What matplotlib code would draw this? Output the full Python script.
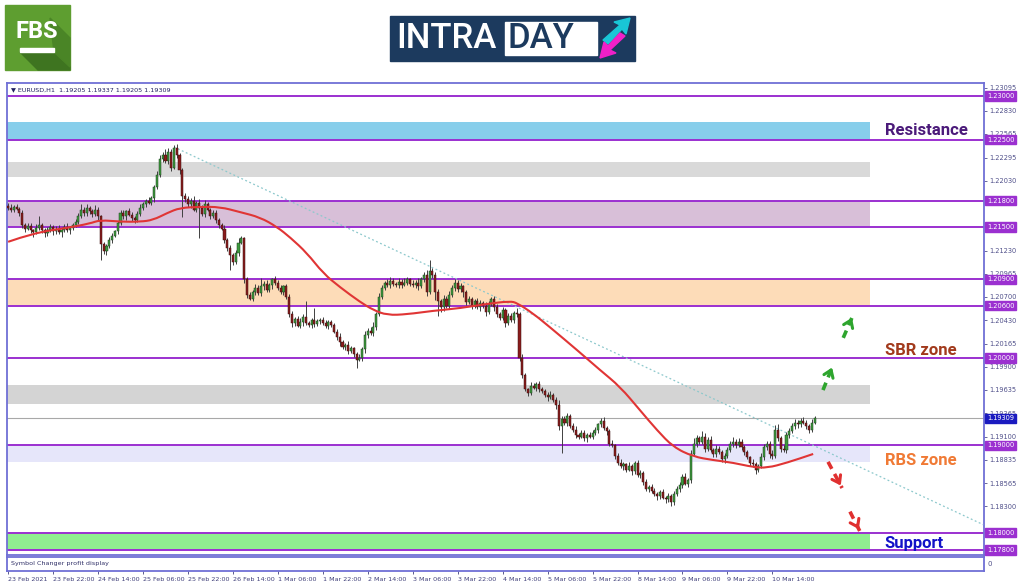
import matplotlib
matplotlib.use("Agg")
import matplotlib.pyplot as plt
from matplotlib.patches import Rectangle, Polygon, PathPatch
from matplotlib.path import Path
from matplotlib.transforms import blended_transform_factory
import numpy as np

# ---- data (prices in pips relative to BASE, one candle per hour) ----
BASE = 1.19000
PIP = 0.0001

closes = [
    272, 270, 273, 271, 266, 252, 248, 251, 246, 244, 249, 252, 247, 243, 246, 250,
    245, 248, 244, 247, 250, 246, 249, 252, 256, 262, 270, 266, 272, 268, 265, 270,
    262, 230, 222, 228, 235, 240, 245, 254, 266, 262, 268, 264, 260, 258, 265, 272,
    276, 280, 278, 283, 296, 310, 328, 333, 325, 336, 318, 340, 332, 315, 286, 282,
    276, 280, 270, 278, 272, 265, 276, 270, 262, 266, 258, 252, 248, 235, 226, 218,
    210, 220, 232, 237, 190, 172, 168, 176, 180, 174, 182, 185, 178, 183, 190, 186,
    180, 176, 182, 170, 150, 140, 145, 137, 141, 147, 140, 138, 143, 139, 142, 144,
    140, 137, 141, 138, 130, 124, 118, 112, 115, 108, 111, 104, 98, 100, 110, 126,
    131, 128, 136, 150, 170, 180, 186, 184, 188, 185, 183, 187, 184, 186, 190, 185,
    183, 186, 182, 190, 195, 175, 200, 195, 176, 165, 158, 168, 160, 172, 180, 186,
    179, 182, 175, 164, 167, 160, 165, 158, 163, 160, 153, 162, 168, 158, 150, 146,
    155, 140, 148, 144, 152, 150, 100, 80, 64, 60, 68, 66, 70, 64, 62, 58,
    55, 58, 52, 46, 22, 30, 26, 34, 22, 18, 12, 10, 14, 8, 12, 10,
    14, 18, 24, 28, 20, 16, 2, 0, -12, -20, -24, -22, -28, -24, -30, -20,
    -34, -32, -42, -50, -48, -52, -56, -58, -54, -60, -62, -58, -65, -56, -50, -46,
    -36, -44, -40, -10, 2, 8, 4, 10, -4, 6, -6, -10, -4, -8, -16, -12,
    -6, 2, 4, 0, 4, -2, -8, -14, -20, -22, -28, -24, -14, -2, 2, -10,
    -12, 18, 8, -4, -6, 12, 16, 22, 26, 24, 28, 26, 22, 18, 26, 31,
]
first_open = 274

upper_wick = [
    3, 4, 2, 3, 2, 3, 2, 4, 3, 2, 4, 11, 3, 2, 4, 3,
    2, 3, 4, 2, 3, 4, 2, 3, 3, 4, 6, 3, 4, 2, 3, 5,
    3, 2, 3, 2, 4, 3, 2, 3, 4, 3, 2, 4, 3, 2, 3, 4,
    3, 2, 4, 3, 2, 4, 5, 3, 6, 4, 3, 4, 5, 3, 2, 3,
    4, 3, 5, 2, 4, 3, 5, 3, 2, 4, 3, 2, 3, 4, 2, 3,
    2, 4, 5, 3, 2, 3, 4, 2, 5, 3, 10, 3, 4, 3, 2, 4,
    3, 4, 2, 3, 3, 4, 2, 3, 5, 3, 18, 2, 3, 14, 3, 2,
    3, 4, 2, 3, 2, 3, 4, 3, 2, 4, 3, 2, 3, 4, 3, 5,
    3, 4, 5, 3, 4, 3, 2, 4, 5, 3, 2, 4, 3, 5, 3, 2,
    4, 3, 5, 3, 4, 6, 12, 3, 4, 3, 2, 4, 3, 5, 3, 4,
    3, 4, 2, 3, 4, 3, 2, 4, 3, 2, 4, 3, 2, 3, 4, 3,
    3, 2, 4, 3, 2, 5, 3, 4, 3, 2, 5, 3, 2, 4, 3, 2,
    3, 4, 2, 3, 6, 3, 4, 3, 2, 3, 4, 2, 3, 4, 2, 3,
    4, 3, 2, 3, 4, 2, 3, 4, 2, 3, 4, 3, 2, 5, 3, 2,
    3, 4, 2, 3, 2, 4, 3, 2, 3, 4, 2, 3, 2, 4, 3, 4,
    3, 4, 3, 5, 6, 4, 3, 6, 4, 3, 5, 3, 4, 3, 2, 3,
    4, 3, 5, 3, 4, 3, 2, 3, 2, 4, 3, 2, 5, 4, 3, 3,
    4, 5, 6, 3, 4, 3, 4, 3, 4, 3, 3, 4, 3, 2, 4, 2,
]
lower_wick = [
    2, 3, 3, 2, 4, 3, 4, 2, 3, 5, 2, 3, 4, 5, 3, 2,
    4, 3, 2, 5, 3, 2, 4, 3, 2, 3, 2, 4, 3, 3, 4, 2,
    4, 18, 3, 4, 2, 3, 2, 3, 2, 3, 4, 2, 3, 4, 2, 3,
    2, 3, 2, 3, 4, 2, 3, 4, 2, 3, 4, 2, 3, 4, 25, 3,
    3, 4, 2, 3, 35, 3, 4, 2, 3, 2, 4, 3, 2, 3, 4, 17,
    3, 2, 3, 2, 4, 3, 2, 3, 4, 2, 3, 4, 2, 3, 4, 3,
    2, 3, 4, 2, 3, 4, 3, 2, 3, 4, 2, 3, 4, 3, 2, 3,
    2, 3, 4, 3, 2, 3, 4, 2, 3, 4, 2, 3, 10, 2, 3, 4,
    3, 2, 3, 4, 2, 3, 2, 3, 4, 3, 2, 3, 4, 2, 3, 3,
    2, 3, 4, 2, 3, 4, 2, 3, 10, 17, 5, 4, 3, 4, 2, 3,
    4, 3, 5, 3, 2, 4, 3, 2, 4, 3, 5, 3, 2, 4, 3, 2,
    3, 4, 2, 3, 4, 3, 4, 3, 2, 4, 3, 2, 4, 3, 2, 3,
    4, 2, 3, 4, 5, 31, 3, 4, 2, 3, 4, 3, 2, 3, 4, 2,
    3, 2, 4, 3, 2, 4, 3, 2, 4, 3, 2, 4, 3, 2, 4, 3,
    2, 4, 3, 2, 4, 3, 2, 5, 3, 2, 4, 3, 5, 3, 2, 4,
    3, 2, 4, 3, 2, 4, 3, 2, 4, 3, 2, 3, 4, 2, 3, 4,
    3, 2, 4, 3, 2, 4, 3, 2, 4, 3, 5, 3, 2, 3, 4, 5,
    4, 3, 3, 4, 2, 3, 4, 2, 3, 4, 3, 2, 3, 4, 3, 2,
]

# moving average read at sample bars
ma_bar = [0, 8.9, 21, 29.2, 32.7, 39.9, 47, 51.6, 56.6, 61.2, 68.3, 75.4, 82.6, 89.7,
          95.7, 100.4, 106.4, 112.1, 118.1, 125.3, 129.9, 134.9, 142, 151.2, 160.9,
          170.5, 178.6, 181.1, 186.8, 192.9, 202.5, 210.7, 217.8, 224.9, 231, 236.7,
          243.8, 250.9, 258, 265.1, 270.1, 277.2, 286.5]
ma_pips = [233, 243, 249, 254, 258, 256, 256, 258, 266, 272, 273, 273, 267, 261,
           250, 238, 220, 197, 181, 164, 155, 149, 150, 154, 157,
           162, 165, 163, 151, 135, 109, 86, 67, 40, 17, -2,
           -13, -17, -20, -25, -26, -20, -10]

# horizontal levels and zones
levels = [1.23000, 1.22500, 1.21800, 1.21500, 1.20900, 1.20600, 1.20000, 1.19000, 1.18000, 1.17800]
zone_low = [1.22500, 1.22072, 1.21500, 1.20600, 1.19472, 1.18808, 1.17812]
zone_high = [1.22700, 1.22244, 1.21800, 1.20900, 1.19690, 1.19000, 1.18000]
zone_colors = ["#87ceeb", "#d9d9d9", "#d8bfd8", "#fddcb8", "#d4d4d4", "#e6e6fa", "#90ee90"]

last_price = 1.19309
trend_bar = [59, 347]
trend_price = [1.22416, 1.18091]

# price scale labels that stay visible beside the level boxes
price_ticks = [1.23095, 1.22830, 1.22565, 1.22295, 1.22030, 1.21230, 1.20965,
               1.20700, 1.20430, 1.20165, 1.19900, 1.19635, 1.19365, 1.19100, 1.18835,
               1.18565, 1.18300]

time_pos = [0, 16, 32, 48, 64, 80, 96, 112, 128, 144, 160, 176, 192, 208, 224, 240, 256, 272]
time_labels = ["23 Feb 2021", "23 Feb 22:00", "24 Feb 14:00", "25 Feb 06:00", "25 Feb 22:00",
               "26 Feb 14:00", "1 Mar 06:00", "1 Mar 22:00", "2 Mar 14:00", "3 Mar 06:00",
               "3 Mar 22:00", "4 Mar 14:00", "5 Mar 06:00", "5 Mar 22:00", "8 Mar 14:00",
               "9 Mar 06:00", "9 Mar 22:00", "10 Mar 14:00"]

# scenario arrows (bar, price): start -> end
arrow_start_bar = [290.0, 297.2, 291.8, 299.6]
arrow_start_price = [1.19632, 1.20230, 1.18810, 1.18240]
arrow_end_bar = [293.6, 300.7, 296.8, 303.2]
arrow_end_price = [1.19920, 1.20490, 1.18510, 1.18010]
arrow_colors = ["#2ea52e", "#2ea52e", "#e03030", "#e03030"]

zone_names = ["Resistance", "SBR zone", "RBS zone", "Support"]
zone_name_price = [1.22600, 1.20080, 1.18830, 1.17880]
zone_name_colors = ["#4b1a7a", "#a23a1c", "#f07a35", "#1212c8"]

FRAME = "#6f6fd6"
LEVEL = "#9b30d0"

# ---- figure ----
fig = plt.figure(figsize=(10.24, 5.87), dpi=100)
bg = fig.add_axes([0, 0, 1, 1])
bg.set_xlim(0, 1024)
bg.set_ylim(587, 0)
bg.axis("off")

# FBS logo
bg.add_patch(Rectangle((5, 5), 65, 65, color="#5e9e30"))
bg.add_patch(Polygon([[20, 52], [54, 52], [70, 67], [70, 70], [38, 70]], color="#3e7420"))
bg.add_patch(Polygon([[50, 18], [70, 38], [70, 67], [54, 52]], color="#4a8526"))
bg.text(37, 32, "FBS", color="white", fontsize=17, fontweight="bold", ha="center", va="center",
        family="Roboto")
bg.add_patch(Rectangle((20, 48), 34, 4, color="white"))

# INTRADAY logo
bg.add_patch(Rectangle((390, 16), 245, 45, color="#1c3a5e"))
bg.text(396, 39, "INTRA", color="white", fontsize=25, fontweight="medium", va="center", ha="left",
        family="Roboto")
bg.add_patch(Rectangle((505, 22), 92, 33, facecolor="white", edgecolor="white"))
bg.text(508, 39, "DAY", color="#1c3a5e", fontsize=25, fontweight="medium", va="center", ha="left",
        family="Roboto")
bg.add_patch(Polygon([[603, 40], [620, 25], [614, 22], [630, 18], [626, 34], [622, 29], [608, 44]],
                     color="#19c6d6"))
bg.add_patch(Polygon([[625, 36], [610, 50], [616, 53], [600, 58], [604, 42], [608, 46], [620, 33]],
                     color="#f020c8"))

# ---- main chart ----
ax = fig.add_axes([7 / 1024, 1 - 555 / 587, 977 / 1024, 472 / 587])
ax.set_xlim(-0.4, 347.3)
ax.set_ylim(1.17743, 1.23149)

for lo, hi, c in zip(zone_low, zone_high, zone_colors):
    ax.add_patch(Rectangle((-0.4, lo), 307.2, hi - lo, color=c, zorder=1, lw=0))

for lv in levels:
    ax.axhline(lv, color=LEVEL, lw=1.4, zorder=2)
ax.axhline(last_price, color="#a8a8a8", lw=0.8, zorder=2)

ax.plot(trend_bar, trend_price, color="#8cc8cc", lw=0.9, ls=(0, (1.5, 2)), zorder=3)

# candles
c = np.array(closes, dtype=float)
o = np.concatenate([[first_open], c[:-1]])
top = np.maximum(o, c)
bot = np.minimum(o, c)
hi = top + np.array(upper_wick)
lo = bot - np.array(lower_wick)
idx = np.arange(len(c))
to_price = lambda p: BASE + p * PIP
ax.vlines(idx, to_price(lo), to_price(hi), color="#404040", lw=0.7, zorder=4)
bull = c >= o
height = np.maximum(top - bot, 0.6)
ax.bar(idx[bull], height[bull] * PIP, bottom=to_price(bot[bull]), width=0.74,
       color="#3d9a3d", edgecolor="#1d3d1d", lw=0.35, zorder=5)
ax.bar(idx[~bull], height[~bull] * PIP, bottom=to_price(bot[~bull]), width=0.74,
       color="#8a1c1c", edgecolor="#3a1010", lw=0.35, zorder=5)

# moving average drawn as a smooth curve through the read points
pts = np.column_stack([ma_bar, to_price(np.array(ma_pips))])
verts = [pts[0]]
codes = [Path.MOVETO]
for k in range(1, len(pts) - 1):
    verts += [pts[k], (pts[k] + pts[k + 1]) / 2]
    codes += [Path.CURVE3, Path.CURVE3]
verts.append(pts[-1])
codes.append(Path.LINETO)
ax.add_patch(PathPatch(Path(verts, codes), fill=False, edgecolor="#e03535", lw=1.5, zorder=6))

# scenario arrows
for sb, sp, eb, ep, col in zip(arrow_start_bar, arrow_start_price, arrow_end_bar,
                               arrow_end_price, arrow_colors):
    ax.plot([sb, eb], [sp, ep], color=col, lw=2.6, ls=(0, (2.2, 1.6)), zorder=7,
            solid_capstyle="butt")
    ax.annotate("", xy=(eb, ep), xytext=(sb + (eb - sb) * 0.6, sp + (ep - sp) * 0.6),
                arrowprops=dict(arrowstyle="->,head_length=0.5,head_width=0.35", lw=2.2, color=col),
                zorder=7)

for name, yp, col in zip(zone_names, zone_name_price, zone_name_colors):
    ax.text(312, yp, name, color=col, fontsize=12, fontweight="bold", family="Roboto",
            va="center", ha="left", zorder=8)

ax.text(0.004, 0.985, "\u25BC EURUSD,H1  1.19205 1.19337 1.19205 1.19309", transform=ax.transAxes,
        fontsize=4.6, color="#202060", va="center", ha="left", family="DejaVu Sans")

ax.set_xticks([])
ax.yaxis.tick_right()
ax.set_yticks(price_ticks)
ax.set_yticklabels([f"{v:.5f}" for v in price_ticks])
ax.tick_params(axis="y", labelsize=4.8, length=2, width=0.6, colors="#50508a", pad=2)
for s in ax.spines.values():
    s.set_color(FRAME)
    s.set_linewidth(1.3)

tr = blended_transform_factory(ax.transAxes, ax.transData)
for lv in levels:
    ax.text(1.003, lv, f"{lv:.5f}", transform=tr, fontsize=4.8, color="white", va="center",
            ha="left", bbox=dict(boxstyle="square,pad=0.25", fc=LEVEL, ec=LEVEL), zorder=9,
            clip_on=False)
ax.text(1.003, last_price, f"{last_price:.5f}", transform=tr, fontsize=4.8, color="white",
        va="center", ha="left", bbox=dict(boxstyle="square,pad=0.25", fc="#1a1ac0", ec="#1a1ac0"),
        zorder=9, clip_on=False)

# ---- indicator sub window ----
ax2 = fig.add_axes([7 / 1024, 1 - 571 / 587, 977 / 1024, 14 / 587])
ax2.set_xlim(-0.4, 347.3)
ax2.set_ylim(0, 1)
ax2.set_yticks([])
ax2.text(0.004, 0.5, "Symbol Changer profit display", transform=ax2.transAxes, fontsize=4.6,
         color="#303068", va="center", ha="left")
ax2.text(1.004, 0.5, "0", transform=ax2.transAxes, fontsize=5, color="#50508a", va="center")
for s in ax2.spines.values():
    s.set_color(FRAME)
    s.set_linewidth(1.3)
ax2.set_xticks(time_pos)
ax2.set_xticklabels(time_labels, ha="left")
ax2.tick_params(axis="x", labelsize=4.6, length=2.5, width=0.6, colors="#40407a", pad=1.5)

fig.savefig("out.png", dpi=100)
